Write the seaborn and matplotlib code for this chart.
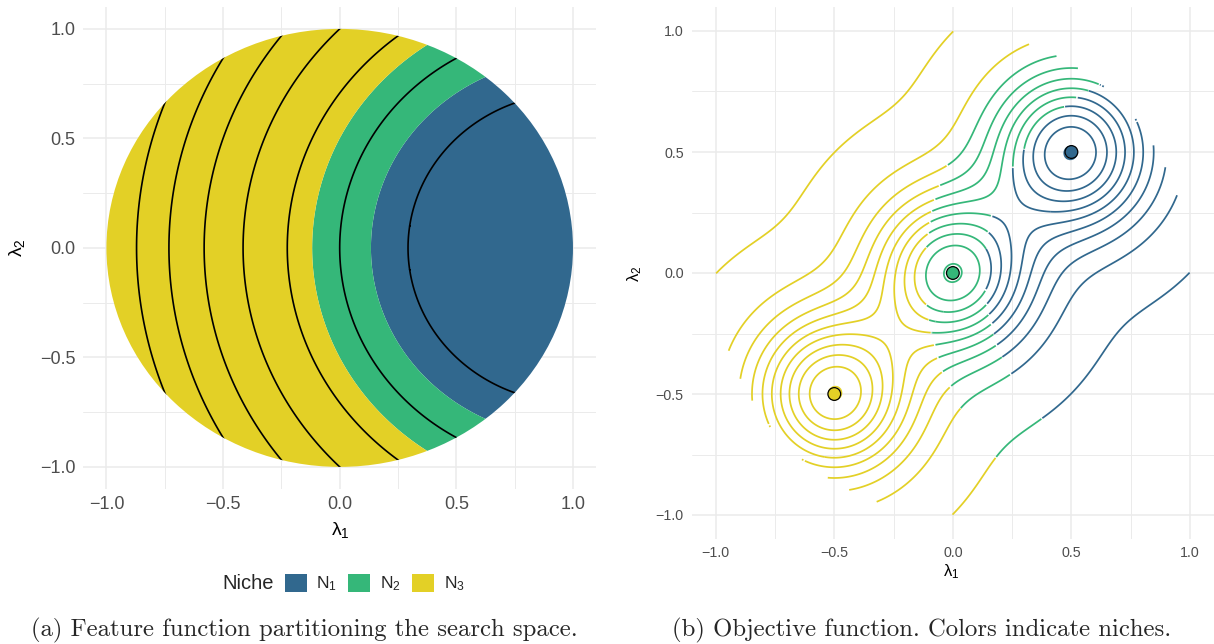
import numpy as np
import pandas as pd
import seaborn as sns
import matplotlib
matplotlib.use("Agg")
import matplotlib.pyplot as plt
from matplotlib.patches import Circle, Patch
from matplotlib.collections import LineCollection

# --- niches (feature = squared distance to feature_center) ---
niche_labels = ['N$_1$', 'N$_2$', 'N$_3$']
niche_colors = ['#31688E', '#35B779', '#E3D026']
niche_breaks = [0.75, 1.25]
feature_center = [1.0, 0.0]
feature_levels = [0.5, 1.0, 1.5, 2.0, 2.5, 3.0, 3.5]

# --- objective: three gaussian peaks on the diagonal ---
peak_x = [-0.5, 0.0, 0.5]
peak_y = [-0.5, 0.0, 0.5]
peak_niche = ['N$_3$', 'N$_2$', 'N$_1$']
peak_sharpness = 10.0
objective_levels = [0.007, 0.1, 0.2, 0.3, 0.4, 0.5, 0.6, 0.7, 0.8, 0.9, 1.0]

tick_values = [-1.0, -0.5, 0.0, 0.5, 1.0]
tick_labels = ['\u22121.0', '\u22120.5', '0.0', '0.5', '1.0']
minor_ticks = [-0.75, -0.25, 0.25, 0.75]

captions = ['(a) Feature function partitioning the search space.',
            '(b) Objective function. Colors indicate niches.']

sns.set_theme(style='white')
plt.rcParams['font.family'] = ['Liberation Sans', 'DejaVu Sans']
plt.rcParams['mathtext.fontset'] = 'custom'
plt.rcParams['mathtext.rm'] = 'Liberation Sans'
plt.rcParams['mathtext.it'] = 'Liberation Sans:italic'
plt.rcParams['mathtext.bf'] = 'Liberation Sans:bold'

W, H = 1214, 644
fig = plt.figure(figsize=(W / 100, H / 100), dpi=100)


def px_axes(x0, x1, top, bottom):
	return fig.add_axes([x0 / W, (H - bottom) / H, (x1 - x0) / W, (bottom - top) / H])


def style_axes(ax, tick_size, pad_x, pad_y):
	ax.set_xlim(-1.1, 1.1)
	ax.set_ylim(-1.1, 1.1)
	ax.set_xticks(tick_values, tick_labels)
	ax.set_yticks(tick_values, tick_labels)
	ax.set_xticks(minor_ticks, minor=True)
	ax.set_yticks(minor_ticks, minor=True)
	ax.grid(which='major', color='#EBEBEB', lw=1.1)
	ax.grid(which='minor', color='#EBEBEB', lw=0.7)
	ax.set_axisbelow(True)
	for s in ax.spines.values():
		s.set_visible(False)
	ax.tick_params(which='both', length=0, labelsize=tick_size, labelcolor='#4D4D4D')
	ax.tick_params(axis='x', pad=pad_x)
	ax.tick_params(axis='y', pad=pad_y)


def set_titles(ax, size, xpos, ypos):
	ax.set_xlabel(r'$\mathrm{\lambda}_1$', fontsize=size, color='black')
	ax.set_ylabel(r'$\mathrm{\lambda}_2$', fontsize=size, color='black')
	ax.xaxis.set_label_coords(*xpos)
	ax.yaxis.set_label_coords(*ypos)
	ax.xaxis.label.set_va('center')
	ax.yaxis.label.set_va('center')


def niche_of(x, y):
	return np.digitize((x - feature_center[0]) ** 2 + (y - feature_center[1]) ** 2, niche_breaks)


def smooth_runs(nv, min_run=3):
	""" merges very short runs into the previous one, so a path only changes niche at real crossings """
	nv = nv.copy()
	start = 0
	for i in range(1, len(nv) + 1):
		if i == len(nv) or nv[i] != nv[start]:
			if start > 0 and i < len(nv) and i - start < min_run:
				nv[start:i] = nv[start - 1]
			start = i
	return nv


# --- left panel: feature function ---
g = np.linspace(-1.02, 1.02, 511)
X, Y = np.meshgrid(g, g)
feature = (X - feature_center[0]) ** 2 + (Y - feature_center[1]) ** 2

ax1 = px_axes(83.1, 596.3, 7.0, 488.8)
style_axes(ax1, 13, 5, 5.5)
clip = Circle((0, 0), 1.0, transform=ax1.transData)
fill = ax1.contourf(X, Y, feature, levels=[0] + niche_breaks + [10], colors=niche_colors, antialiased=True)
fill.set_clip_path(clip)
lines = ax1.contour(X, Y, feature, levels=feature_levels, colors='black', linewidths=1.2)
lines.set_clip_path(clip)
set_titles(ax1, 14, (0.5006, -0.0855), (-0.128, 0.5))

handles = [Patch(facecolor=c, edgecolor='none') for c in niche_colors]
fig.legend(handles, niche_labels, loc='center left', bbox_to_anchor=(284.5 / W, (H - 583.5) / H),
           ncol=3, frameon=False, fontsize=12.5, handlelength=1.27, handleheight=1.27,
           handletextpad=0.55, columnspacing=0.65, borderpad=0, borderaxespad=0)
fig.text(274 / W, (H - 583.5) / H, 'Niche', ha='right', va='center', fontsize=14.5)

# --- right panel: objective contours coloured by niche ---
g2 = np.linspace(-1, 1, 301)
X2, Y2 = np.meshgrid(g2, g2)
objective = np.zeros_like(X2)
for px, py in zip(peak_x, peak_y):
	objective += np.exp(-peak_sharpness * ((X2 - px) ** 2 + (Y2 - py) ** 2))
objective = np.ma.masked_where(X2 ** 2 + Y2 ** 2 > 1.0, objective)

ax2 = px_axes(692, 1213.7, 6.8, 539.2)
style_axes(ax2, 10.3, 5, 6)

# contour paths from matplotlib, then split wherever the niche changes
cs = ax2.contour(X2, Y2, objective, levels=objective_levels)
pieces = {k: [] for k in range(len(niche_colors))}
for level_segs in cs.allsegs:
	for seg in level_segs:
		nv = smooth_runs(niche_of(seg[:, 0], seg[:, 1]))
		cuts = np.flatnonzero(np.diff(nv)) + 1
		for part in np.split(np.arange(len(seg)), cuts):
			if len(part) > 1:
				pieces[nv[part[0]]].append(seg[part])
cs.remove()
for k, col in enumerate(niche_colors):
	ax2.add_collection(LineCollection(pieces[k], colors=col, linewidths=1.25, capstyle='butt'))

peaks = pd.DataFrame({'x': peak_x, 'y': peak_y, 'niche': peak_niche})
sns.scatterplot(data=peaks, x='x', y='y', hue='niche', palette=dict(zip(niche_labels, niche_colors)),
                s=84, edgecolor='black', linewidth=0.9, legend=False, ax=ax2, zorder=5)
set_titles(ax2, 12, (0.4974, -0.0616), (-0.1093, 0.499))

# --- captions ---
fig.text(304 / W, (H - 630) / H, captions[0], family='cmr10', fontsize=17.8, ha='center', va='center')
fig.text(922 / W, (H - 630) / H, captions[1], family='cmr10', fontsize=17.8, ha='center', va='center')

fig.savefig('out.png', dpi=100)
